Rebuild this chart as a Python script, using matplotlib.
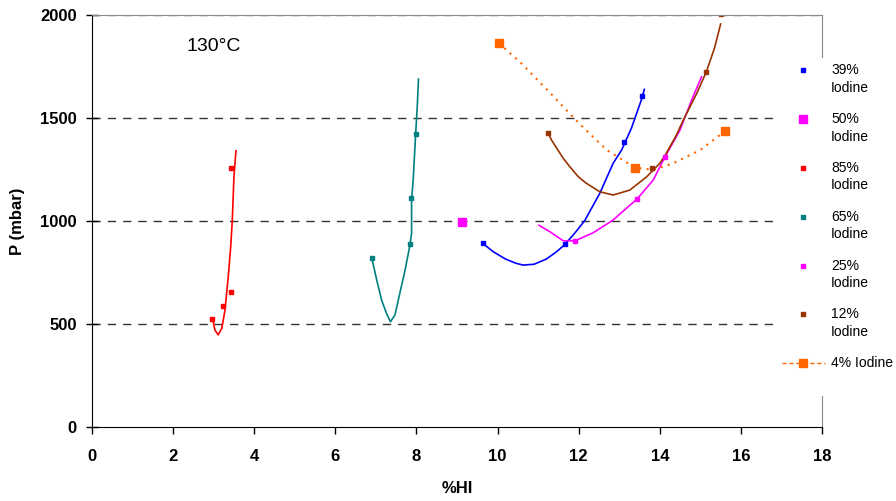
import matplotlib
matplotlib.use("Agg")
import matplotlib.pyplot as plt
from matplotlib.patches import Rectangle
from matplotlib.lines import Line2D

plt.rcParams['font.family'] = ['Liberation Sans', 'DejaVu Sans']

# ---- measured points (markers) ----
i39_x = [9.63, 11.66, 13.12, 13.55]
i39_y = [892, 886, 1383, 1605]
i50_x = [9.12]
i50_y = [996]
i85_x = [2.96, 3.24, 3.43, 3.43]
i85_y = [524, 589, 654, 1259]
i65_x = [6.91, 7.85, 7.87, 7.98]
i65_y = [822, 887, 1113, 1421]
i25_x = [11.91, 13.44, 14.13]
i25_y = [904, 1107, 1312]
i12_x = [11.25, 13.80, 15.15, 15.50]
i12_y = [1425, 1259, 1725, 2003]
i4_x = [10.03, 13.40, 15.61]
i4_y = [1863, 1259, 1437]

# ---- trend curves ----
c39_x = [9.63, 9.9, 10.2, 10.45, 10.63, 10.9, 11.2, 11.45, 11.66, 11.9, 12.15, 12.52, 12.85, 13.06, 13.3, 13.55, 13.62]
c39_y = [892, 850, 815, 795, 786, 790, 815, 850, 886, 940, 1002, 1134, 1280, 1345, 1450, 1590, 1639]
c25_x = [11.02, 11.29, 11.62, 11.91, 12.36, 12.85, 13.44, 13.84, 14.13, 14.50, 14.82, 15.03]
c25_y = [979, 948, 904, 904, 943, 1005, 1107, 1199, 1312, 1442, 1604, 1700]
c85_x = [2.99, 3.03, 3.11, 3.20, 3.28, 3.36, 3.42, 3.46, 3.50, 3.55]
c85_y = [511, 471, 447, 479, 568, 730, 875, 1005, 1215, 1341]
c65_x = [6.91, 7.02, 7.14, 7.26, 7.36, 7.47, 7.59, 7.72, 7.84, 7.88, 7.88, 7.92, 7.98, 8.02, 8.05]
c65_y = [811, 714, 617, 552, 511, 544, 649, 762, 884, 940, 1102, 1199, 1421, 1555, 1689]
c12_x = [11.25, 11.33, 11.46, 11.62, 11.78, 11.99, 12.19, 12.52, 12.85, 13.26, 13.68, 14.00, 14.13, 14.41, 14.58, 14.91, 15.15, 15.35, 15.50]
c12_y = [1425, 1393, 1353, 1304, 1264, 1215, 1183, 1142, 1126, 1150, 1215, 1280, 1318, 1417, 1490, 1619, 1725, 1840, 1956]
c4_x = [10.03, 10.59, 11.29, 12.03, 12.69, 13.22, 13.40, 13.84, 14.33, 15.00, 15.61]
c4_y = [1863, 1765, 1623, 1470, 1345, 1280, 1259, 1248, 1280, 1345, 1437]

legend_labels = ['39%\nIodine', '50%\nIodine', '85%\nIodine', '65%\nIodine',
                 '25%\nIodine', '12%\nIodine', '4% Iodine']

x_ticks = [0, 2, 4, 6, 8, 10, 12, 14, 16, 18]
y_ticks = [0, 500, 1000, 1500, 2000]

BLUE = '#0000FF'
MAG = '#FF00FF'
RED = '#FF0000'
TEAL = '#008080'
BROWN = '#993300'
ORANGE = '#FF6600'

W, H = 896, 501
fig = plt.figure(figsize=(W / 100, H / 100), dpi=100)
ax = fig.add_axes([92 / W, 1 - 427 / H, (822 - 92) / W, (427 - 15) / H])

lw = 1.2
ax.plot(c39_x, c39_y, color=BLUE, lw=lw)
ax.plot(c25_x, c25_y, color=MAG, lw=lw)
ax.plot(c85_x, c85_y, color=RED, lw=lw)
ax.plot(c65_x, c65_y, color=TEAL, lw=lw)
ax.plot(c12_x, c12_y, color=BROWN, lw=lw)
ax.plot(c4_x, c4_y, color=ORANGE, lw=1.5, ls=(0, (1, 2.5)))

ms = 3.5
ax.plot(i39_x, i39_y, 's', color=BLUE, ms=ms, ls='none')
ax.plot(i50_x, i50_y, 's', color=MAG, ms=6, ls='none')
ax.plot(i85_x, i85_y, 's', color=RED, ms=ms, ls='none')
ax.plot(i65_x, i65_y, 's', color=TEAL, ms=ms, ls='none')
ax.plot(i25_x, i25_y, 's', color=MAG, ms=ms, ls='none')
ax.plot(i12_x, i12_y, 's', color=BROWN, ms=ms, ls='none')
ax.plot(i4_x, i4_y, 's', color=ORANGE, ms=6, ls='none')

ax.set_xlim(0, 18)
ax.set_ylim(0, 2000)
ax.set_xticks(x_ticks)
ax.set_yticks(y_ticks)
for y in [500, 1000, 1500, 2000]:
    ax.axhline(y, color='#333333' if y < 2000 else '#777777', lw=1.0, ls=(0, (6, 5)), zorder=0.5)

for lab in ax.get_xticklabels() + ax.get_yticklabels():
    lab.set_fontweight('bold')
    lab.set_fontsize(12)
ax.tick_params(axis='x', direction='out', length=5, width=1, pad=11)
ax.tick_params(axis='y', direction='inout', length=8, width=1, pad=7)

ax.spines['left'].set_color('black')
ax.spines['bottom'].set_color('black')
ax.spines['top'].set_color('#888888')
ax.spines['right'].set_color('#888888')

ax.set_xlabel('%HI', fontsize=12, fontweight='bold', labelpad=12)
ax.set_ylabel('P (mbar)', fontsize=12, fontweight='bold')
ax.yaxis.set_label_coords(-0.092, 0.5)

ax.text(3.0, 1845, '130°C', fontsize=14, ha='center', va='center')

# ---- legend drawn in figure pixel coordinates ----
def fx(px):
    return px / W

def fy(py):
    return 1 - py / H

fig.patches.append(Rectangle((fx(777), fy(396)), fx(896) - fx(777), fy(58) - fy(396),
                             transform=fig.transFigure, facecolor='white',
                             edgecolor='none', zorder=5))
leg_colors = [BLUE, MAG, RED, TEAL, MAG, BROWN, ORANGE]
leg_sizes = [3.5, 6, 3.5, 3.5, 3.5, 3.5, 6]
leg_y = [70, 119, 167.5, 216.5, 265.5, 314, 363]
for lab, col, sz, yy in zip(legend_labels, leg_colors, leg_sizes, leg_y):
    if lab.startswith('4%'):
        fig.lines.append(Line2D([fx(782), fx(825)], [fy(yy), fy(yy)], transform=fig.transFigure,
                                color=ORANGE, lw=1.0, ls=(0, (3, 2)), zorder=6))
    fig.lines.append(Line2D([fx(803)], [fy(yy)], transform=fig.transFigure, marker='s',
                            ms=sz, color=col, ls='none', zorder=7))
    if '\n' in lab:
        fig.text(fx(831), fy(yy - 7), lab, fontsize=10, va='top', ha='left',
                 linespacing=1.35, zorder=7)
    else:
        fig.text(fx(831), fy(yy), lab, fontsize=10, va='center', ha='left', zorder=7)

fig.savefig('out.png', dpi=100)
